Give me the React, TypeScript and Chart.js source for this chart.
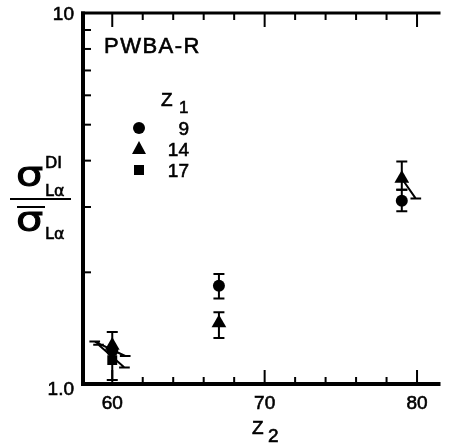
import React, { useEffect, useRef } from 'react';
import { Chart, registerables } from 'chart.js';

Chart.register(...registerables);

// ---- data ----
const Z2_VALUES = [60, 67, 79];
const X_TICKS_MAJOR = [60, 70, 80];
const X_TICKS_MINOR = [62, 64, 66, 68, 72, 74, 76, 78];
const Y_TICKS_MINOR = [2, 3, 4, 5, 6, 7, 8, 9];
const Y_TICK_LABELS = ['1.0', '10'];
const Y_TICK_VALUES = [1, 10];

const Z1_9 = [1.23, 1.84, 3.12];
const Z1_9_LO = [null, 1.7, 2.92];
const Z1_9_HI = [null, 1.98, 3.34];

const Z1_14 = [1.27, 1.46, 3.58];
const Z1_14_LO = [null, 1.33, 3.34];
const Z1_14_HI = [1.38, 1.56, 3.98];

const Z2_17 = [60];
const Z1_17 = [1.16];
const Z1_17_LO = [1.025];
const Z1_17_HI = [null];

// PWBA-R slanted theory segments: [x0, y0, x1, y1, capStart, capEnd]
const THEORY_SEGMENTS = [
  [58.85, 1.301, 60.85, 1.19, 1, 1],
  [59.1, 1.275, 60.8, 1.107, 1, 1],
  [79.0, 3.58, 79.92, 3.16, 0, 1],
];
const CAP_HALF = 0.35;

const LEGEND_LABELS = ['9', '14', '17'];

function segmentPoints() {
  const pts: any[] = [];
  THEORY_SEGMENTS.forEach(([x0, y0, x1, y1, c0, c1]) => {
    if (c0) {
      pts.push({ x: x0 - CAP_HALF, y: y0 }, { x: x0 + CAP_HALF, y: y0 }, { x: x0, y: null });
    }
    pts.push({ x: x0, y: y0 }, { x: x1, y: y1 }, { x: x1, y: null });
    if (c1) {
      pts.push({ x: x1 - CAP_HALF, y: y1 }, { x: x1 + CAP_HALF, y: y1 }, { x: x1, y: null });
    }
  });
  return pts;
}

const FONT = '"Liberation Sans", sans-serif';

function txt(ctx: any, s: string, x: number, y: number) {
  ctx.fillText(s, x, y);
  ctx.strokeText(s, x, y);
}

const framePlugin = {
  id: 'frame',
  afterDatasetsDraw(chart: any) {
    const ctx = chart.ctx;
    const xs = chart.scales.x;
    const ys = chart.scales.y;
    ctx.save();
    ctx.strokeStyle = '#000';
    ctx.lineWidth = 2;
    const bars = [
      [Z2_VALUES, Z1_9_LO, Z1_9_HI],
      [Z2_VALUES, Z1_14_LO, Z1_14_HI],
      [Z2_17, Z1_17_LO, Z1_17_HI],
    ];
    const sets = [Z1_9, Z1_14, Z1_17];
    bars.forEach(([xv, lo, hi]: any, k) => {
      xv.forEach((x: number, i: number) => {
        const px = xs.getPixelForValue(x);
        const py = ys.getPixelForValue(sets[k][i]);
        const cap = 5.5;
        if (hi[i] != null) {
          const t = ys.getPixelForValue(hi[i]);
          ctx.beginPath();
          ctx.moveTo(px, py);
          ctx.lineTo(px, t);
          ctx.moveTo(px - cap, t);
          ctx.lineTo(px + cap, t);
          ctx.stroke();
        }
        if (lo[i] != null) {
          const b = ys.getPixelForValue(lo[i]);
          ctx.beginPath();
          ctx.moveTo(px, py);
          ctx.lineTo(px, b);
          ctx.moveTo(px - cap, b);
          ctx.lineTo(px + cap, b);
          ctx.stroke();
        }
      });
    });
    ctx.restore();
  },
  afterDraw(chart: any) {
    const ctx = chart.ctx;
    const xs = chart.scales.x;
    const ys = chart.scales.y;
    const a = chart.chartArea;
    ctx.save();
    ctx.strokeStyle = '#000';
    ctx.fillStyle = '#000';
    // axes lines
    ctx.lineWidth = 4;
    ctx.beginPath();
    ctx.moveTo(a.left, a.top - 1.5);
    ctx.lineTo(a.left, a.bottom + 2);
    ctx.stroke();
    ctx.beginPath();
    ctx.moveTo(a.left - 2, a.bottom);
    ctx.lineTo(a.right, a.bottom);
    ctx.stroke();
    ctx.lineWidth = 3;
    ctx.beginPath();
    ctx.moveTo(a.left - 2, a.top);
    ctx.lineTo(a.right, a.top);
    ctx.stroke();
    // x ticks
    ctx.lineWidth = 2;
    const xt = (v: number, len: number) => {
      const px = xs.getPixelForValue(v);
      ctx.beginPath();
      ctx.moveTo(px, a.bottom);
      ctx.lineTo(px, a.bottom - len);
      ctx.moveTo(px, a.top);
      ctx.lineTo(px, a.top + len);
      ctx.stroke();
    };
    X_TICKS_MAJOR.forEach((v) => xt(v, 14));
    X_TICKS_MINOR.forEach((v) => xt(v, 7));
    Y_TICKS_MINOR.forEach((v) => {
      const py = ys.getPixelForValue(v);
      ctx.beginPath();
      ctx.moveTo(a.left, py);
      ctx.lineTo(a.left + 8, py);
      ctx.stroke();
    });
    // text: slight stroke to mimic heavy lettering
    ctx.lineWidth = 0.6;
    ctx.font = '19px ' + FONT;
    ctx.textAlign = 'center';
    ctx.textBaseline = 'alphabetic';
    X_TICKS_MAJOR.forEach((v) => {
      txt(ctx, String(v), xs.getPixelForValue(v), a.bottom + 25);
    });
    ctx.textAlign = 'right';
    Y_TICK_VALUES.forEach((v, i) => {
      const py = ys.getPixelForValue(v);
      txt(ctx, Y_TICK_LABELS[i], 74, py + (v === 1 ? 11 : 7));
    });
    // x title
    ctx.textAlign = 'left';
    ctx.font = '19px ' + FONT;
    txt(ctx, 'Z', 252, 434);
    txt(ctx, '2', 268, 442);
    // y title
    const sigma = (x: number, y: number) => {
      ctx.save();
      ctx.translate(x, y);
      ctx.scale(1.3, 1);
      ctx.font = '33px "DejaVu Sans", sans-serif';
      ctx.lineWidth = 0.9;
      txt(ctx, 'σ', 0, 0);
      ctx.restore();
    };
    sigma(16, 186);
    sigma(16, 231);
    ctx.font = '16px "DejaVu Sans", sans-serif';
    txt(ctx, 'DI', 45, 168);
    txt(ctx, 'Lα', 45, 196);
    txt(ctx, 'Lα', 45, 239);
    ctx.lineWidth = 2;
    ctx.beginPath();
    ctx.moveTo(10, 199);
    ctx.lineTo(71, 199);
    ctx.moveTo(17, 207);
    ctx.lineTo(45, 207);
    ctx.stroke();
    // annotation
    ctx.lineWidth = 0.6;
    ctx.font = '22px ' + FONT;
    (ctx as any).letterSpacing = '1.5px';
    txt(ctx, 'PWBA-R', 104, 53);
    (ctx as any).letterSpacing = '0px';
    // legend
    ctx.font = '19px ' + FONT;
    txt(ctx, 'Z', 161, 106);
    ctx.font = '17px ' + FONT;
    txt(ctx, '1', 179, 113);
    ctx.beginPath();
    ctx.arc(139, 128, 6, 0, Math.PI * 2);
    ctx.fill();
    ctx.beginPath();
    ctx.moveTo(139, 141);
    ctx.lineTo(146, 154);
    ctx.lineTo(132, 154);
    ctx.closePath();
    ctx.fill();
    ctx.fillRect(134, 165, 10, 10);
    ctx.font = '19px ' + FONT;
    ctx.textAlign = 'right';
    LEGEND_LABELS.forEach((t, i) => {
      txt(ctx, t, 189, 135 + i * 21);
    });
    ctx.restore();
  },
};

export default function App() {
  const ref = useRef<HTMLCanvasElement>(null);
  useEffect(() => {
    if (!ref.current) return;
    const chart = new Chart(ref.current, {
      type: 'scatter',
      data: {
        datasets: [
          {
            type: 'line',
            data: segmentPoints(),
            borderColor: '#000',
            borderWidth: 2,
            pointRadius: 0,
            spanGaps: false,
            fill: false,
          } as any,
          {
            data: Z2_VALUES.map((x, i) => ({ x, y: Z1_9[i] })),
            pointStyle: 'circle',
            pointRadius: 6,
            backgroundColor: '#000',
            borderColor: '#000',
            borderWidth: 0,
          },
          {
            data: Z2_VALUES.map((x, i) => ({ x, y: Z1_14[i] })),
            pointStyle: 'triangle',
            pointRadius: 8.5,
            backgroundColor: '#000',
            borderColor: '#000',
            borderWidth: 0,
          },
          {
            data: Z2_17.map((x, i) => ({ x, y: Z1_17[i] })),
            pointStyle: 'rect',
            pointRadius: 7,
            backgroundColor: '#000',
            borderColor: '#000',
            borderWidth: 0,
          },
        ],
      },
      options: {
        animation: false,
        responsive: true,
        maintainAspectRatio: false,
        layout: { padding: { left: 83, top: 13, right: 0, bottom: 59 } },
        plugins: { legend: { display: false }, tooltip: { enabled: false } },
        scales: {
          x: { type: 'linear', min: 58.08, max: 81.54, display: false },
          y: { type: 'logarithmic', min: 1, max: 10, display: false },
        },
      },
      plugins: [framePlugin],
    });
    return () => chart.destroy();
  }, []);
  return (
    <div style={{ position: 'fixed', left: 0, top: 0, width: 449, height: 443, background: '#fff' }}>
      <canvas ref={ref} />
    </div>
  );
}
